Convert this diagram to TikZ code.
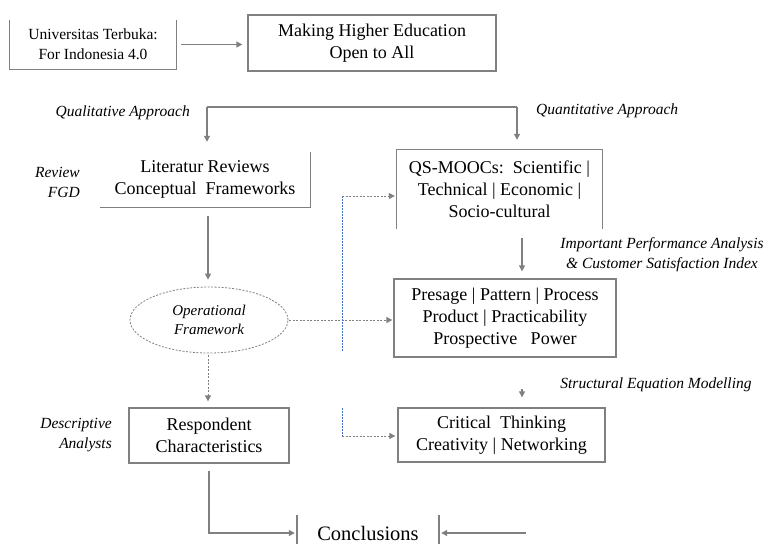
\documentclass[tikz,border=0pt]{standalone}
\usepackage{fontspec}
\setmainfont{Liberation Serif}
\usetikzlibrary{arrows.meta,shapes.geometric}
\definecolor{ln}{HTML}{808080}
\definecolor{bl}{HTML}{4472C4}
\tikzset{
 box/.style={inner sep=0pt, align=center, font=\fontsize{18}{22}\selectfont, text=black},
 boxd/.style={box, draw=ln, line width=1.3pt},
 lbl/.style={inner sep=0pt, font=\fontsize{15.5}{20}\selectfont\itshape},
 edge/.style={draw=ln, line width=1.3pt},
 arr/.style={edge, -{Triangle[length=6pt,width=6pt]}},
 darr/.style={draw=ln, line width=1pt, dash pattern=on 2pt off 1.5pt, -{Triangle[length=6pt,width=6pt]}},
 bdot/.style={draw=bl, line width=1pt, dash pattern=on 1.5pt off 1.5pt},
}
\begin{document}
\begin{tikzpicture}[x=1pt,y=-1pt]
\useasboundingbox (0,0) rectangle (770,544);
\clip (0,0) rectangle (770,544);
% boxes
\node[box, minimum width=166pt, minimum height=49pt, font=\fontsize{15.5}{20}\selectfont] (b1) at (93,44.5) {Universitas Terbuka:\\For Indonesia 4.0};
\draw[edge] (b1.north west) -- (b1.south west) -- (b1.south east) -- (b1.north east);
\node[boxd, minimum width=248pt, minimum height=56pt] (b2) at (372,43) {Making Higher Education\\Open to All};
\node[box, minimum width=210pt, minimum height=55pt] (b3) at (205,179.5) {Literatur Reviews\\Conceptual\ \ Frameworks};
\draw[edge] (b3.south west) -- (b3.south east) -- (b3.north east);
\node[ellipse, draw=ln, line width=0.8pt, dash pattern=on 2pt off 1.5pt, minimum width=158pt, minimum height=66pt, inner sep=0pt, align=center, font=\fontsize{15}{19}\selectfont\itshape] (ell) at (209,320) {Operational\\Framework};
\node[boxd, minimum width=160pt, minimum height=55pt] (b4) at (209,435.5) {Respondent\\Characteristics};
\node[box, minimum width=142pt, minimum height=36pt, font=\fontsize{20.5}{24}\selectfont] (cc) at (368,533) {Conclusions};
\coordinate (cct) at (297,515);
\coordinate (ccb) at (297,544);
\coordinate (cct2) at (439,515);
\coordinate (ccb2) at (439,544);
\draw[edge] (cct) -- (ccb);
\draw[edge] (cct2) -- (ccb2);
\node[box, minimum width=205pt, minimum height=79pt] (b5) at (499.5,189.5) {QS-MOOCs:\ \ Scientific |\\Technical | Economic |\\Socio-cultural};
\draw[edge] (b5.south west) -- (b5.north west) -- (b5.north east) -- (b5.south east);
\node[boxd, minimum width=222pt, minimum height=78pt] (b6) at (505,318) {Presage | Pattern | Process\\Product | Practicability\\Prospective\ \ \ Power};
\node[boxd, minimum width=207pt, minimum height=54pt] (b7) at (501.5,435) {Critical\ \ Thinking\\Creativity | Networking};
% labels
\node[lbl, anchor=east] (lq) at (190,113) {Qualitative Approach};
\node[lbl, anchor=west] (lqn) at (536,111) {Quantitative Approach};
\node[lbl, anchor=east, align=right] (lr) at (80,182) {Review\\FGD};
\node[lbl, align=center] (lipa) at (662,255) {Important Performance Analysis\\\& Customer Satisfaction Index};
\node[lbl] (lsem) at (656,385) {Structural Equation Modelling};
\node[lbl, anchor=east, align=right] (lda) at (112,435) {Descriptive\\Analysts};
% connectors
\draw[arr, shorten <=5pt, shorten >=5pt] (b1.east) -- (b1.east -| b2.west);
\coordinate (sl) at (207,107);
\coordinate (sr) at (517,107);
\draw[edge] (sl) -- (sr);
\draw[arr, shorten >=10pt] (sl) -- (sl |- b3.north);
\draw[arr, shorten >=10pt] (sr) -- (sr |- b5.north);
\draw[arr, shorten <=9pt, shorten >=7pt] (b3.south -| 208,0) -- (ell.north -| 208,0);
\draw[darr, shorten <=2pt, shorten >=6pt] (ell.south -| 208,0) -- (b4.north -| 208,0);
\draw[arr, shorten <=7pt, shorten >=2pt] (b4.south) |- (cc.west);
\coordinate (cr) at (526,533);
\draw[arr, shorten >=2pt] (cr) -- (cc.east);
\draw[arr, shorten <=9pt, shorten >=7pt] (b5.south -| 522,0) -- (b6.north -| 522,0);
\coordinate (a7) at (522,389);
\draw[arr, shorten >=10pt] (a7) -- (a7 |- b7.north);
\draw[darr, shorten <=1pt, shorten >=1pt] (ell.east) -- (ell.east -| b6.west);
\coordinate (bt) at (342,196);
\coordinate (bm1) at (342,352);
\coordinate (bm2) at (342,408);
\coordinate (bb) at (342,436);
\draw[bdot] (bt) -- (bm1);
\draw[bdot] (bm2) -- (bb);
\draw[darr, shorten >=2pt] (bt) -- (bt -| b5.west);
\draw[darr, shorten >=2pt] (bb) -- (bb -| b7.west);
\end{tikzpicture}
\end{document}
